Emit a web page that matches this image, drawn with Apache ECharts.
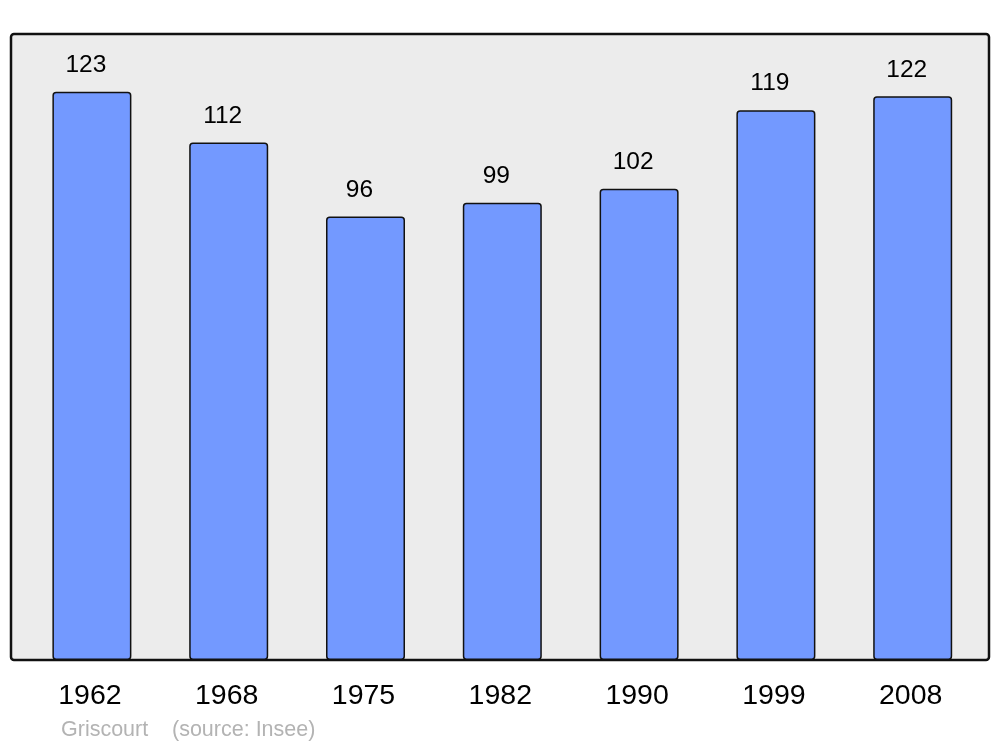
<!DOCTYPE html>
<html>
<head>
<meta charset="utf-8">
<style>html,body{margin:0;padding:0;background:#fff;}#c{width:1000px;height:747px;}</style>
<script src="https://cdn.jsdelivr.net/npm/echarts@6/dist/echarts.min.js"></script>
</head>
<body>
<div id="c"></div>
<script>
const years = ['1962','1968','1975','1982','1990','1999','2008'];
const population = [123, 112, 96, 99, 102, 119, 122];
const footerName = 'Griscourt';
const footerSource = '(source: Insee)';

const FONT = 'Liberation Sans, Arial, sans-serif';
const chart = echarts.init(document.getElementById('c'), null, {renderer:'canvas'});
chart.setOption({
  animation: false,
  backgroundColor: '#ffffff',
  graphic: [
    {type:'rect', z:-10, shape:{x:11, y:34, width:978, height:626, r:3},
     style:{fill:'#ececec', stroke:'#111', lineWidth:2.5}},
    {type:'text', left:61, top:719, style:{text:footerName, fill:'#b3b3b3', fontSize:21.5, fontFamily:FONT}},
    {type:'text', left:172, top:719, style:{text:footerSource, fill:'#b3b3b3', fontSize:21.5, fontFamily:FONT}}
  ],
  grid: {left:23.5, top:34, width:957.6, height:626},
  xAxis: {
    type:'category', data: years,
    axisLine:{show:false}, axisTick:{show:false},
    axisLabel:{color:'#000', fontSize:28.5, fontFamily:FONT, margin:22, padding:[0,4,0,0]}
  },
  yAxis: {type:'value', min:0, max:135.5, show:false, splitLine:{show:false}},
  series: [{
    type:'bar', data: population, barWidth:79,
    itemStyle:{color:'#7399ff', borderColor:'#111', borderWidth:1.5, borderRadius:3},
    label:{show:true, position:'top', distance:14, offset:[-6,0], color:'#000', fontSize:24.5, fontFamily:FONT}
  }]
});
</script>
</body>
</html>
